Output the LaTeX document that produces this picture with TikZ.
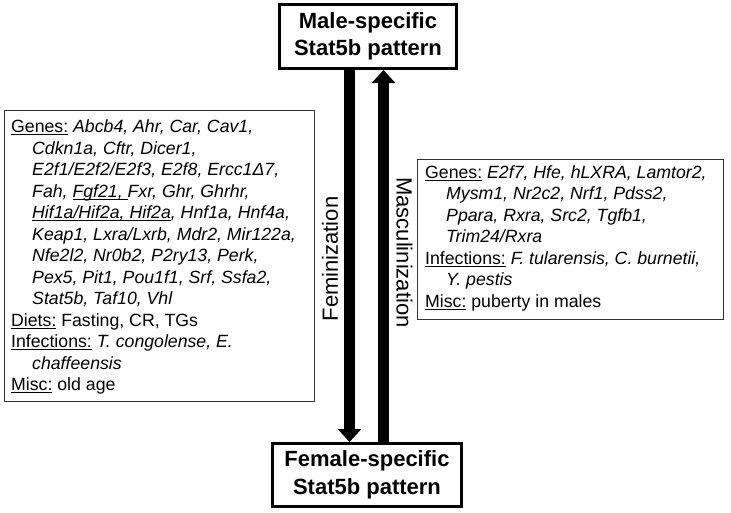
\documentclass[tikz,border=0pt]{standalone}
\usepackage{fontspec}
\setmainfont{Liberation Sans}
\usetikzlibrary{arrows.meta}
\newcommand\myul[1]{\setbox0\hbox{#1}\rlap{\rule[-2.6pt]{\wd0}{1.1pt}}\box0\relax}
\tikzset{
  bigbox/.style={draw=black,line width=3pt,inner sep=0pt,align=center,
    font=\fontsize{22}{27.5}\selectfont\bfseries},
  listbox/.style={draw=black!80,line width=1.2pt,inner sep=0pt,anchor=north west},
  listtext/.style={inner sep=0pt,anchor=north west,align=left,
    font=\fontsize{17.7}{21.5}\selectfont},
  fat/.style={line width=11pt,-{Triangle[width=23pt,length=13pt]}},
  sidelab/.style={inner sep=0pt,font=\fontsize{22}{26}\selectfont}
}
\begin{document}
\begin{tikzpicture}[x=1pt,y=-1pt]
\useasboundingbox (0,0) rectangle (731,512);
\node[bigbox,minimum width=177pt,minimum height=64pt] (male) at (368,36.5)
  {Male-specific\\Stat5b pattern};
\node[bigbox,minimum width=189pt,minimum height=63pt] (female) at (367,475)
  {Female-specific\\Stat5b pattern};
\node[listbox,minimum width=310pt,minimum height=291pt] (lbox) at (3.5,109.5) {};
\node[listbox,minimum width=306pt,minimum height=160pt] (rbox) at (417,159) {};
\node[listtext] (ltext) at (11,119.5) {%
\myul{Genes:} \textit{Abcb4, Ahr, Car, Cav1,}\\
\hspace*{21pt}\textit{Cdkn1a, Cftr, Dicer1,}\\
\hspace*{21pt}\textit{E2f1/E2f2/E2f3, E2f8, Ercc1Δ7,}\\
\hspace*{21pt}\textit{Fah, }\myul{\textit{Fgf21,}\ }\textit{Fxr, Ghr, Ghrhr,}\\
\hspace*{21pt}\myul{\textit{Hif1a/Hif2a, Hif2a}}\textit{, Hnf1a, Hnf4a,}\\
\hspace*{21pt}\textit{Keap1, Lxra/Lxrb, Mdr2, Mir122a,}\\
\hspace*{21pt}\textit{Nfe2l2, Nr0b2, P2ry13, Perk,}\\
\hspace*{21pt}\textit{Pex5, Pit1, Pou1f1, Srf, Ssfa2,}\\
\hspace*{21pt}\textit{Stat5b, Taf10, Vhl}\\
\myul{Diets:} Fasting, CR, TGs\\
\myul{Infections:} \textit{T. congolense, E.}\\
\hspace*{21pt}\textit{chaffeensis}\\
\myul{Misc:} old age};
\node[listtext] (rtext) at (425,165) {%
\myul{Genes:} \textit{E2f7, Hfe, hLXRA, Lamtor2,}\\
\hspace*{21pt}\textit{Mysm1, Nr2c2, Nrf1, Pdss2,}\\
\hspace*{21pt}\textit{Ppara, Rxra, Src2, Tgfb1,}\\
\hspace*{21pt}\textit{Trim24/Rxra}\\
\myul{Infections:} \textit{F. tularensis, C. burnetii,}\\
\hspace*{21pt}\textit{Y. pestis}\\
\myul{Misc:} puberty in males};
\coordinate (fx) at (349.5,0);
\coordinate (mx) at (383.5,0);
\draw[fat] (male.south -| fx) -- (female.north -| fx);
\draw[fat] (female.north -| mx) -- (male.south -| mx);
\node[sidelab,rotate=90] (femlab) at (330,259) {Feminization};
\node[sidelab,rotate=-90] (maslab) at (404.5,252.5) {Masculinization};
\end{tikzpicture}
\end{document}
